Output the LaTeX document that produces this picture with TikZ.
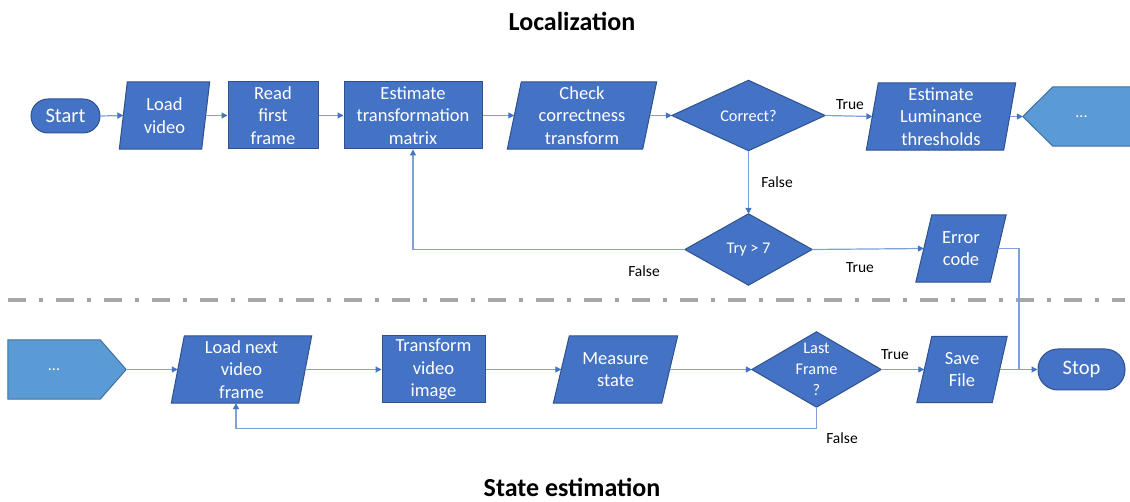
\documentclass[tikz,border=0pt]{standalone}
\usepackage{fontspec}
\setmainfont{Carlito}
\usetikzlibrary{arrows.meta,calc,backgrounds}
\definecolor{boxfill}{HTML}{4472C4}
\definecolor{boxline}{HTML}{2F528F}
\definecolor{lightfill}{HTML}{5B9BD5}
\definecolor{lightline}{HTML}{41719C}
\definecolor{conn}{HTML}{7EA1DB}
\definecolor{arrowc}{HTML}{4472C4}
\definecolor{sepgray}{HTML}{A6A6A6}
\tikzset{
  x=1pt, y=-1pt,
  holder/.style={rectangle, draw=none, inner sep=0pt, text=white, align=center,
     font=\fontsize{18.5}{22.5}\selectfont},
  rectbox/.style={holder, fill=boxfill, draw=boxline, line width=1pt},
  termbox/.style={holder, fill=boxfill, draw=boxline, line width=1pt, rounded corners=17pt,
     font=\fontsize{20.5}{24}\selectfont},
  diafont/.style={font=\fontsize{16.3}{20.7}\selectfont},
  shapefill/.style={fill=boxfill, draw=boxline, line width=1pt},
  lightshape/.style={fill=lightfill, draw=lightline, line width=1pt},
  conline/.style={draw=conn, line width=1.2pt},
  arr/.style={conline, -{Triangle[length=6pt,width=6pt,color=arrowc]}},
  lab/.style={font=\fontsize{15.5}{18}\selectfont, text=black},
  ttl/.style={font=\fontsize{26}{30}\selectfont\bfseries, text=black, inner sep=0pt}
}
\newcommand\paradraw[2]{%
  \filldraw[shapefill] ($(#1.north west)+(#2,0)$) -- ($(#1.north east)+(#2,0)$) --
    ($(#1.south east)-(#2,0)$) -- ($(#1.south west)-(#2,0)$) -- cycle;}
\newcommand\diadraw[1]{%
  \filldraw[shapefill] (#1.north) -- (#1.east) -- (#1.south) -- (#1.west) -- cycle;}
\begin{document}
\begin{tikzpicture}
\useasboundingbox (0,0) rectangle (1130,502);

% titles
\node[ttl] (t1) at (572,21) {Localization};
\node[ttl] (t2) at (572,487.5) {State estimation};

% top row
\node[termbox, minimum width=69pt, minimum height=34pt] (start) at (65.5,116) {Start};
\node[holder, minimum width=82pt, minimum height=67pt] (load) at (164.5,115.5) {Load\\video};
\node[rectbox, minimum width=90pt, minimum height=67pt] (read) at (273,115.5) {Read\\first\\frame};
\node[rectbox, minimum width=138pt, minimum height=67pt] (est) at (413,115.5) {Estimate\\transformation\\matrix};
\node[holder, minimum width=135pt, minimum height=67pt] (check) at (582,115.5) {Check\\correctness\\transform};
\node[holder, diafont, minimum width=153pt, minimum height=70pt] (correct) at (748.5,115.5) {Correct?};
\node[holder, minimum width=137pt, minimum height=67pt] (lum) at (941,116.5) {Estimate\\Luminance\\thresholds};
\node[holder, font=\fontsize{16}{18}\selectfont, minimum width=117pt, minimum height=59pt] (dots1) at (1081.5,116.5) {...};

% middle
\node[holder, diafont, minimum width=127pt, minimum height=71pt] (try) at (748.5,249.5) {Try > 7};
\node[holder, minimum width=74pt, minimum height=67pt] (err) at (961,248.5) {Error\\code};

% bottom row
\node[holder, font=\fontsize{16}{18}\selectfont, minimum width=92pt, minimum height=59pt] (dots2) at (54,369.5) {...};
\coordinate (d2tip) at ($(dots2.east)+(26,0)$);
\node[holder, minimum width=127pt, minimum height=67pt] (next) at (241.5,369.5) {Load next\\video\\frame};
\node[rectbox, minimum width=103pt, minimum height=67pt] (trans) at (433.5,369.5) {Transform\\video\\image};
\node[holder, minimum width=108pt, minimum height=67pt] (meas) at (615.5,369.5) {Measure\\state};
\node[holder, diafont, minimum width=129pt, minimum height=75pt] (last) at (816.5,369.5) {Last\\Frame\\?};
\node[holder, minimum width=75pt, minimum height=66pt] (save) at (962,369.5) {Save\\File};
\node[termbox, rounded corners=20pt, minimum width=87pt, minimum height=41pt] (stop) at (1081.5,369.5) {Stop};

\begin{pgfonlayer}{background}
  \paradraw{load}{4}
  \paradraw{check}{7}
  \paradraw{lum}{6}
  \paradraw{err}{8}
  \paradraw{next}{6.5}
  \paradraw{meas}{8}
  \paradraw{save}{7.5}
  \diadraw{correct}
  \diadraw{try}
  \diadraw{last}
  \filldraw[lightshape] (dots1.west) -- ($(dots1.north west)+(30,0)$) -- (dots1.north east)
     -- (dots1.south east) -- ($(dots1.south west)+(30,0)$) -- cycle;
  \filldraw[lightshape] (dots2.north west) -- (dots2.north east) -- (d2tip)
     -- (dots2.south east) -- (dots2.south west) -- cycle;
\end{pgfonlayer}

% separator
\draw[sepgray, line width=3.5pt, dash pattern=on 18pt off 13pt on 4pt off 13pt] (8,300) -- (1125,300);

% connectors top
\draw[arr] (start.east) -- (load.west);
\draw[arr] (load.east) -- (read.west);
\draw[arr] (read.east) -- (est.west);
\draw[arr] (est.east) -- (check.west);
\draw[arr] (check.east) -- (correct.west);
\draw[arr] (correct.east) -- (lum.west);
\draw[arr] (lum.east) -- (dots1.west);
\draw[arr] (correct.south) -- (try.north);
\draw[arr] (try.west) -| (est.south);
\draw[arr] (try.east) -- (err.west);
\coordinate (junc) at (1019,369.5);
\draw[conline] (err.east) -| (junc);

% connectors bottom
\draw[arr] (d2tip) -- (next.west);
\draw[arr] (next.east) -- (trans.west);
\draw[arr] (trans.east) -- (meas.west);
\draw[arr] (meas.east) -- (last.west);
\draw[arr] (last.east) -- (save.west);
\draw[arr] (save.east) -- (stop.west);
\draw[arr] (last.south) -- ++(0,21) -| ($(next.south)+(-5.5,0)$);

% labels
\node[lab] (l1) at (850,105) {True};
\node[lab] (l2) at (777,182) {False};
\node[lab] (l3) at (644,271) {False};
\node[lab] (l4) at (860,268) {True};
\node[lab] (l5) at (895,355) {True};
\node[lab] (l6) at (842,438) {False};
\end{tikzpicture}
\end{document}
